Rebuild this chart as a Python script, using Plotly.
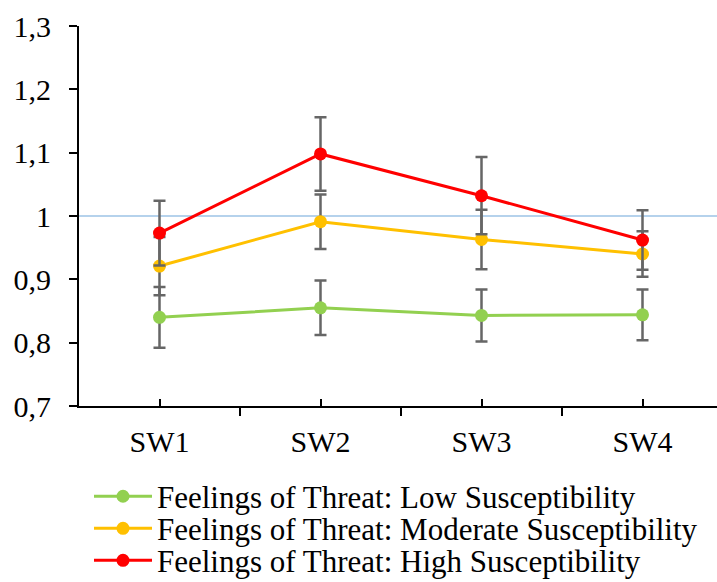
import plotly.graph_objects as go

categories = ["SW1", "SW2", "SW3", "SW4"]
series_names = [
    "Feelings of Threat: Low Susceptibility",
    "Feelings of Threat: Moderate Susceptibility",
    "Feelings of Threat: High Susceptibility",
]
low_vals = [0.840, 0.855, 0.843, 0.844]
low_err = [0.048, 0.043, 0.041, 0.040]
mod_vals = [0.921, 0.991, 0.963, 0.940]
mod_err = [0.046, 0.043, 0.047, 0.036]
high_vals = [0.973, 1.098, 1.032, 0.962]
high_err = [0.051, 0.058, 0.061, 0.047]
reference_value = 1.0
y_ticks = [0.7, 0.8, 0.9, 1.0, 1.1, 1.2, 1.3]

colors = ["#92D050", "#FFC000", "#FF0000"]
x_pos = list(range(len(categories)))
FONT = "Liberation Serif"

fig = go.Figure()
legend_ids = ["legend", "legend2", "legend3"]
for name, vals, errs, col, lg in zip(series_names, [low_vals, mod_vals, high_vals],
                                    [low_err, mod_err, high_err], colors, legend_ids):
    fig.add_trace(go.Scatter(
        x=x_pos, y=vals, name=name, mode="lines+markers",
        line=dict(color=col, width=3),
        marker=dict(color=col, size=13),
        error_y=dict(type="data", array=errs, visible=True,
                     color="#666666", thickness=2.5, width=6),
        legend=lg, showlegend=True,
    ))

fig.add_shape(type="line", xref="paper", x0=0, x1=1, yref="y",
              y0=reference_value, y1=reference_value,
              line=dict(color="#9DC3E6", width=1.5), layer="below")

PLOT_TOP, PLOT_BOTTOM = 26, 405.5
def paper_y(px):
    return (PLOT_BOTTOM - px) / (PLOT_BOTTOM - PLOT_TOP)

leg_common = dict(font=dict(family=FONT, size=31, color="black"),
                  bgcolor="rgba(0,0,0,0)", itemwidth=58,
                  xanchor="left", yanchor="middle", x=(89 - 79) / (717 - 79))
fig.update_layout(
    width=717, height=582,
    margin=dict(l=79, r=0, t=26, b=176, autoexpand=False),
    plot_bgcolor="white", paper_bgcolor="white",
    separators=",.",
    font=dict(family=FONT, size=30, color="black"),
    legend=dict(**leg_common, y=paper_y(496)),
    legend2=dict(**leg_common, y=paper_y(528)),
    legend3=dict(**leg_common, y=paper_y(560)),
    xaxis=dict(
        range=[-0.5, -0.5 + (717 - 79) / 161],
        tickmode="array", tickvals=x_pos, ticktext=categories,
        ticks="inside", ticklen=7, tickwidth=1.5, tickcolor="black",
        showline=True, linecolor="black", linewidth=1.5,
        showgrid=False, zeroline=False,
        tickfont=dict(family=FONT, size=30, color="black"),
        ticklabelstandoff=8,
        minor=dict(tickmode="array",
                   tickvals=[p - 0.5 for p in x_pos] + [x_pos[-1] + 0.5],
                   ticks="outside", ticklen=8, tickwidth=1.5, tickcolor="black",
                   showgrid=False),
    ),
    yaxis=dict(
        range=[0.7, 1.3], tickmode="array", tickvals=y_ticks,
        ticks="outside", ticklen=8, tickwidth=1.5, tickcolor="black",
        showline=True, linecolor="black", linewidth=2,
        showgrid=False, zeroline=False,
        tickfont=dict(family=FONT, size=30, color="black"),
        ticklabelstandoff=12,
    ),
)

fig.write_html("out.html")
